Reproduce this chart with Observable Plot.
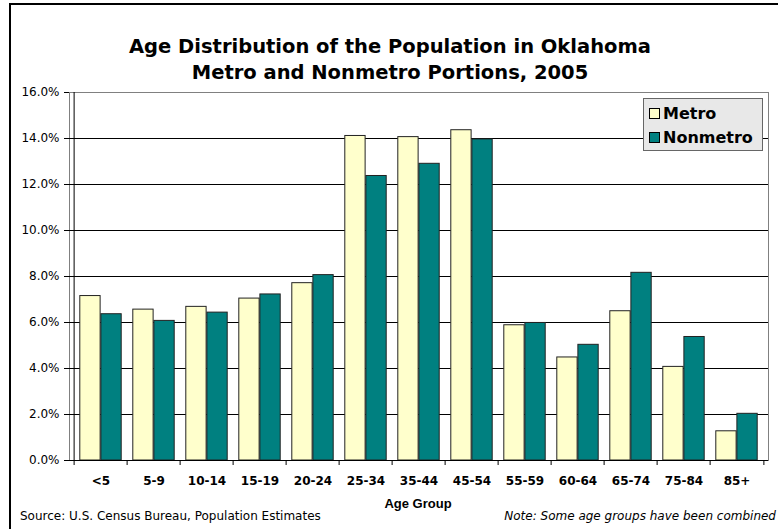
<!DOCTYPE html>
<html>
<head>
<meta charset="utf-8">
<script src="https://cdn.jsdelivr.net/npm/d3@7"></script>
<script src="https://cdn.jsdelivr.net/npm/@observablehq/plot@0.6"></script>
<style>
  html, body { margin: 0; padding: 0; background: #fff; }
  #chart { position: relative; width: 778px; height: 529px; overflow: hidden; font-family: "DejaVu Sans", sans-serif; }
  #border { position: absolute; left: 9px; top: 3px; width: 800px; height: 600px; border-left: 2px solid #000; border-top: 2px solid #000; box-sizing: border-box; }
  .title { position: absolute; left: 0; width: 780px; text-align: center; font-weight: bold; font-size: 19.5px; color: #000; }
  #legend { position: absolute; left: 643px; top: 98px; width: 120px; height: 53px; box-sizing: border-box; background: #e8e8e8; border: 1px solid #666; font-weight: bold; font-size: 16px; }
  .item { position: absolute; left: 5px; height: 20px; line-height: 20px; white-space: nowrap; }
  .sw { display: inline-block; width: 9px; height: 9px; border: 1px solid #000; margin-right: 3px; vertical-align: 0px; }
  .foot { position: absolute; top: 509px; font-size: 12px; white-space: nowrap; color: #000; }
  #xlabel { position: absolute; left: 318px; width: 200px; text-align: center; top: 496px; font-weight: bold; font-size: 13px; font-family: "Liberation Sans", sans-serif; }
  svg { position: absolute; left: 0; top: 0; }
</style>
</head>
<body>
<div id="chart">
  <div id="border"></div>
  <div class="title" style="top:35px">Age Distribution of the Population in Oklahoma</div>
  <div class="title" style="top:61px">Metro and Nonmetro Portions, 2005</div>
  <div id="plot"></div>
  <div id="legend">
    <div class="item" style="top:5px"><span class="sw" style="background:#FFFFCC"></span>Metro</div>
    <div class="item" style="top:29px"><span class="sw" style="background:#008080"></span>Nonmetro</div>
  </div>
  <div id="xlabel">Age Group</div>
  <div class="foot" style="left:20px">Source: U.S. Census Bureau, Population Estimates</div>
  <div class="foot" style="right:2px;font-style:italic">Note: Some age groups have been combined</div>
</div>
<script>
const ageGroups = ["<5","5-9","10-14","15-19","20-24","25-34","35-44","45-54","55-59","60-64","65-74","75-84","85+"];
const metro =    [7.15, 6.56, 6.68, 7.04, 7.71, 14.11, 14.06, 14.36, 5.88, 4.48, 6.49, 4.07, 1.27];
const nonmetro = [6.36, 6.07, 6.43, 7.22, 8.06, 12.37, 12.90, 13.96, 5.98, 5.03, 8.16, 5.37, 2.03];
const seriesNames = ["Metro", "Nonmetro"];
const seriesColors = ["#FFFFCC", "#008080"];
const yTicks = [0, 2, 4, 6, 8, 10, 12, 14, 16];

const W = 778, H = 529, mL = 69, mR = 10, mT = 92, mB = 69;
const step = (W - mL - mR) / ageGroups.length;
const gap = 5.8;

const rows = [];
ageGroups.forEach((a, i) => {
  rows.push({age: a, series: seriesNames[0], value: metro[i]});
  rows.push({age: a, series: seriesNames[1], value: nonmetro[i]});
});

const chart = Plot.plot({
  width: W, height: H,
  marginLeft: mL, marginRight: mR, marginTop: mT, marginBottom: mB,
  style: {fontFamily: "DejaVu Sans, sans-serif", background: "transparent", overflow: "visible"},
  x: {domain: ageGroups, padding: 0, label: null},
  y: {domain: [0, 16], label: null},
  marks: [
    Plot.frame({stroke: "#808080"}),
    Plot.gridY(yTicks.filter(d => d > 0 && d < 16), {stroke: "#000", strokeOpacity: 1}),
    Plot.barY(rows.filter(d => d.series === seriesNames[0]), {x: "age", y: "value", fill: seriesColors[0], stroke: "#222", strokeWidth: 1, insetLeft: gap, insetRight: step / 2}),
    Plot.barY(rows.filter(d => d.series === seriesNames[1]), {x: "age", y: "value", fill: seriesColors[1], stroke: "#222", strokeWidth: 1, insetLeft: step / 2, insetRight: gap}),
    Plot.ruleY([0], {stroke: "#000"}),
    Plot.ruleX([ageGroups[0]], {dx: -step / 2, stroke: "#000"}),
    Plot.axisY(yTicks, {tickSize: 5, tickPadding: 5, fontSize: 12, tickFormat: d => d.toFixed(1) + "%", label: null, stroke: "#000"}),
    Plot.axisX(ageGroups, {tickSize: 5, tickFormat: () => "", dx: -step / 2, label: null, stroke: "#000"}),
    Plot.axisX([ageGroups[ageGroups.length - 1]], {tickSize: 5, tickFormat: () => "", dx: step / 2, label: null, stroke: "#000"}),
    Plot.axisX(ageGroups, {tickSize: 0, tickPadding: 16, fontSize: 12, fontWeight: "bold", label: null})
  ]
});
document.getElementById("plot").appendChild(chart);
</script>
</body>
</html>
